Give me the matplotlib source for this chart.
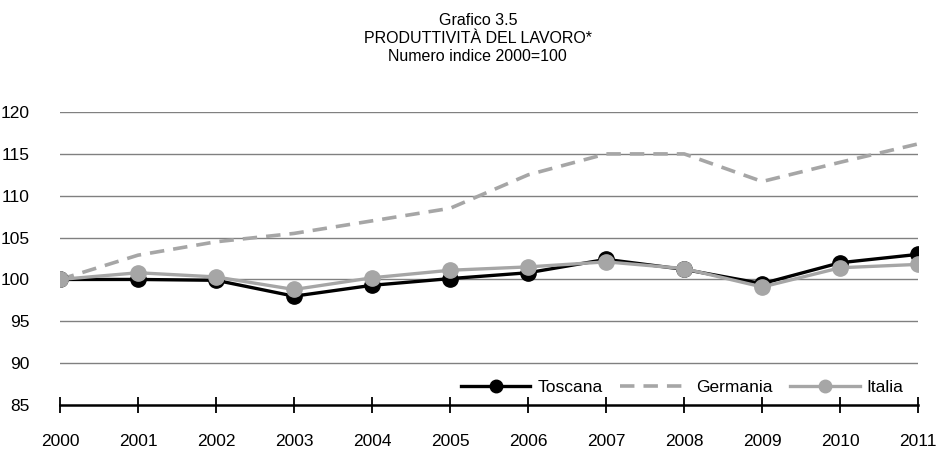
import matplotlib.pyplot as plt

plt.rcParams['font.family'] = ['Liberation Sans Narrow', 'Liberation Sans', 'DejaVu Sans']

# Data
anni = [2000, 2001, 2002, 2003, 2004, 2005, 2006, 2007, 2008, 2009, 2010, 2011]
toscana = [100.0, 100.0, 99.9, 98.0, 99.3, 100.1, 100.8, 102.4, 101.2, 99.5, 102.0, 103.0]
germania = [100.0, 102.9, 104.5, 105.5, 107.0, 108.5, 112.5, 115.0, 115.0, 111.7, 114.0, 116.2]
italia = [100.0, 100.8, 100.3, 98.8, 100.2, 101.1, 101.5, 102.1, 101.3, 99.1, 101.4, 101.8]

y_ticks = [85, 90, 95, 100, 105, 110, 115, 120]

fig = plt.figure(figsize=(9.37, 4.5), dpi=100)
ax = fig.add_axes([0.064, 0.1, 0.916, 0.651])

ax.plot(anni, toscana, color='black', lw=2.4, marker='o', ms=11, label='Toscana', zorder=3)
ax.plot(anni, germania, color='#a6a6a6', lw=2.6, ls=(0, (4, 2.5)), label='Germania', zorder=2)
ax.plot(anni, italia, color='#a6a6a6', lw=2.4, marker='o', ms=11, label='Italia', zorder=4)

ax.set_xlim(2000, 2011)
ax.set_ylim(85, 120)
ax.set_xticks(anni)
ax.set_yticks(y_ticks)
ax.tick_params(axis='y', length=0, labelsize=12.5, pad=22)
ax.tick_params(axis='x', direction='inout', length=12, width=1.3, labelsize=12.5, pad=15)
for v in y_ticks[1:]:
    ax.axhline(v, color='#808080', lw=1, zorder=1)
for s in ['left', 'right', 'top']:
    ax.spines[s].set_visible(False)
ax.spines['bottom'].set_linewidth(1.8)
ax.spines['bottom'].set_zorder(5)

leg = ax.legend(loc='lower right', ncol=3, frameon=False, fontsize=12.5,
                handlelength=4.0, columnspacing=1.0, handletextpad=0.4,
                bbox_to_anchor=(0.995, 0.0), borderaxespad=0.2)
for h in leg.legend_handles:
    h.set_markersize(9)

fig.text(0.51, 0.955, 'Grafico 3.5', ha='center', va='center', fontsize=11.5)
fig.text(0.51, 0.915, 'PRODUTTIVITÀ DEL LAVORO*', ha='center', va='center', fontsize=11.5)
fig.text(0.51, 0.875, 'Numero indice 2000=100', ha='center', va='center', fontsize=11.5)

fig.savefig('out.png', dpi=100)
